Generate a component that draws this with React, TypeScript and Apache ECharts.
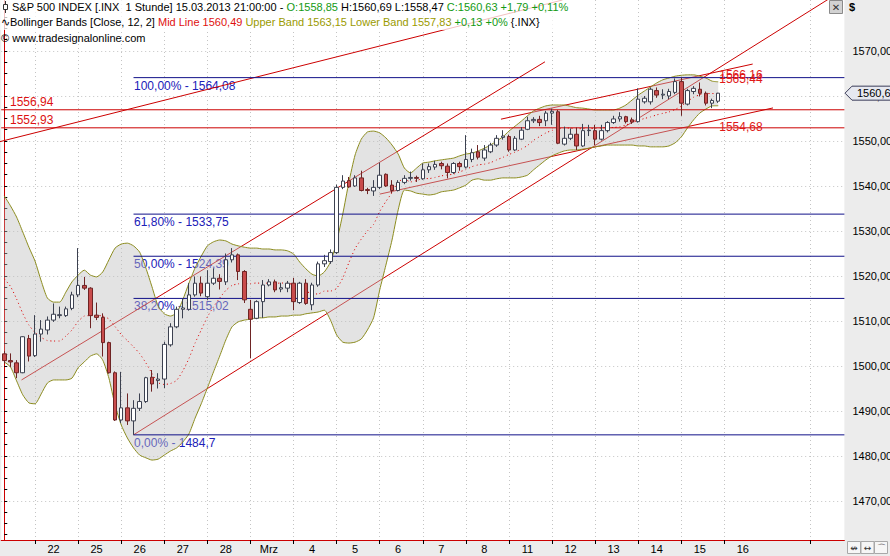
import React, { useEffect, useRef } from "react";
import * as echarts from "echarts";

// ---- price data (hourly bars, 21 Feb - 15 Mar 2013) ----
const opens = [
  1502.7, 1501.2, 1500.7, 1498.5, 1506.1, 1502.3, 1507.1, 1508.0, 1510.2, 1511.2,
  1511.2, 1512.8, 1515.8, 1517.9, 1517.3, 1511.3, 1510.8, 1505.2, 1498.5, 1488.0,
  1490.7, 1487.8, 1490.6, 1492.1, 1497.5, 1496.8, 1497.1, 1504.7, 1508.7, 1512.6,
  1512.6, 1515.8, 1518.4, 1515.4, 1518.4, 1519.5, 1518.7, 1523.6, 1524.7, 1521.0,
  1512.6, 1510.6, 1514.3, 1518.0, 1518.7, 1517.1, 1517.3, 1518.4, 1514.1, 1518.4,
  1513.6, 1518.0, 1522.7, 1523.2, 1525.2, 1539.7, 1541.2, 1540.0, 1541.8, 1539.2,
  1538.9, 1539.7, 1542.6, 1540.2, 1539.0, 1540.8, 1541.7, 1541.9, 1541.6, 1543.6,
  1544.2, 1545.0, 1544.4, 1543.0, 1545.0, 1544.2, 1545.9, 1547.6, 1546.2, 1547.6,
  1549.1, 1550.8, 1551.0, 1548.0, 1550.4, 1552.6, 1554.5, 1554.8, 1554.5, 1556.2,
  1556.5, 1549.3, 1550.6, 1551.5, 1548.9, 1552.3, 1552.3, 1550.4, 1552.3, 1554.1,
  1554.9, 1555.4, 1554.7, 1554.3, 1558.7, 1558.7, 1561.2, 1560.2, 1560.0, 1560.8,
  1563.2, 1558.2, 1561.0, 1561.5, 1560.6, 1558.4, 1558.85,
];
const highs = [
  1503.3, 1502.8, 1501.3, 1506.6, 1506.9, 1511.3, 1510.2, 1511.0, 1513.9, 1513.2,
  1513.2, 1516.5, 1526.2, 1519.8, 1517.5, 1514.1, 1511.7, 1505.4, 1498.8, 1498.7,
  1493.9, 1492.4, 1493.9, 1497.6, 1499.1, 1498.4, 1505.4, 1509.5, 1513.2, 1515.0,
  1518.4, 1519.9, 1519.9, 1521.3, 1521.7, 1520.4, 1525.0, 1526.2, 1525.0, 1521.3,
  1514.7, 1514.6, 1519.1, 1519.3, 1519.2, 1518.5, 1518.9, 1519.6, 1518.7, 1519.3,
  1518.5, 1523.2, 1524.7, 1525.9, 1540.3, 1542.4, 1542.0, 1542.4, 1543.4, 1539.6,
  1541.3, 1545.2, 1542.8, 1541.3, 1541.3, 1542.4, 1543.2, 1542.3, 1545.0, 1545.0,
  1545.6, 1545.4, 1545.0, 1545.3, 1545.4, 1551.3, 1548.3, 1549.1, 1549.1, 1549.6,
  1551.3, 1552.4, 1551.4, 1551.1, 1553.1, 1555.4, 1555.3, 1555.6, 1556.7, 1557.2,
  1556.9, 1553.2, 1552.8, 1553.0, 1553.8, 1553.6, 1553.6, 1553.6, 1554.4, 1555.6,
  1556.4, 1555.6, 1555.2, 1561.7, 1560.0, 1561.9, 1561.9, 1561.5, 1561.6, 1563.9,
  1564.1, 1561.6, 1562.2, 1563.0, 1561.0, 1559.4, 1560.69,
];
const lows = [
  1500.5, 1499.8, 1497.3, 1498.4, 1501.0, 1502.0, 1505.4, 1507.0, 1509.8, 1510.6,
  1510.9, 1512.4, 1515.3, 1516.9, 1508.4, 1510.2, 1502.1, 1498.3, 1487.8, 1487.3,
  1486.9, 1484.7, 1490.0, 1491.8, 1494.3, 1495.0, 1495.1, 1504.3, 1508.4, 1510.6,
  1512.3, 1515.4, 1515.5, 1514.7, 1518.0, 1517.0, 1518.0, 1523.0, 1519.1, 1514.0,
  1501.7, 1510.4, 1510.7, 1517.7, 1516.4, 1516.4, 1516.4, 1512.4, 1513.8, 1513.6,
  1512.4, 1517.6, 1522.0, 1522.7, 1524.9, 1539.3, 1539.6, 1539.8, 1538.8, 1538.2,
  1537.8, 1539.3, 1539.8, 1538.4, 1538.8, 1540.4, 1541.2, 1540.9, 1541.4, 1542.9,
  1543.6, 1543.7, 1541.7, 1542.7, 1543.4, 1543.9, 1545.3, 1545.9, 1545.6, 1547.3,
  1548.7, 1550.3, 1547.6, 1547.8, 1550.2, 1552.4, 1554.0, 1553.3, 1553.3, 1553.6,
  1549.3, 1549.0, 1550.2, 1548.0, 1548.7, 1551.1, 1549.1, 1550.1, 1551.9, 1553.8,
  1554.3, 1553.9, 1553.8, 1554.1, 1558.3, 1558.1, 1559.6, 1559.3, 1559.3, 1560.4,
  1555.6, 1557.9, 1560.4, 1559.9, 1557.9, 1557.3, 1558.47,
];
const closes = [
  1501.2, 1500.9, 1498.5, 1506.5, 1502.2, 1507.1, 1508.2, 1510.2, 1511.5, 1511.4,
  1512.7, 1515.8, 1517.9, 1517.3, 1511.2, 1510.8, 1505.2, 1498.5, 1488.0, 1490.7,
  1487.8, 1490.6, 1492.1, 1497.4, 1496.0, 1497.1, 1504.8, 1508.7, 1512.6, 1512.9,
  1515.8, 1518.4, 1516.2, 1518.4, 1519.5, 1518.8, 1523.6, 1524.7, 1521.0, 1514.7,
  1510.4, 1514.3, 1518.0, 1518.7, 1516.9, 1517.4, 1518.4, 1514.3, 1518.4, 1513.9,
  1518.0, 1522.7, 1523.4, 1525.2, 1539.7, 1541.1, 1539.8, 1541.8, 1539.0, 1539.0,
  1539.7, 1542.4, 1540.0, 1539.0, 1540.8, 1541.7, 1541.9, 1541.7, 1543.6, 1544.3,
  1544.8, 1544.5, 1543.0, 1545.0, 1544.3, 1545.9, 1547.4, 1546.4, 1548.0, 1549.1,
  1550.6, 1551.1, 1548.0, 1550.6, 1552.4, 1554.5, 1554.8, 1554.1, 1556.2, 1556.6,
  1549.5, 1550.6, 1551.5, 1548.9, 1552.3, 1552.4, 1550.4, 1552.3, 1554.1, 1554.9,
  1555.4, 1554.3, 1554.2, 1559.3, 1559.5, 1561.5, 1560.2, 1560.4, 1561.0, 1563.2,
  1558.4, 1561.2, 1561.7, 1560.6, 1558.4, 1559.0, 1560.63,
];

// ---- Bollinger Bands (Close, 12, 2) ----
const upperBand = [
  1537.8, 1535.6, 1533.1, 1529.8, 1526.4, 1523.3, 1518.9, 1515.1, 1514.2, 1514.2,
  1516.4, 1518.7, 1520.2, 1521.3, 1520.2, 1519.8, 1520.9, 1523.6, 1526.2, 1527.1,
  1527.3, 1526.7, 1525.3, 1521.8, 1517.6, 1513.3, 1511.6, 1511.1, 1511.8, 1514.7,
  1518.4, 1521.8, 1524.4, 1526.7, 1527.6, 1528.0, 1527.8, 1527.1, 1526.7, 1526.4,
  1526.2, 1526.2, 1526.0, 1526.0, 1525.8, 1525.8, 1525.6, 1524.9, 1523.1, 1521.6,
  1520.4, 1520.0, 1520.9, 1523.1, 1527.6, 1533.8, 1540.9, 1546.9, 1550.4, 1552.0,
  1552.2, 1551.8, 1550.7, 1549.1, 1547.1, 1544.0, 1542.9, 1544.0, 1545.1, 1545.3,
  1545.6, 1545.8, 1546.0, 1546.2, 1546.7, 1547.1, 1547.3, 1547.8, 1548.4, 1549.1,
  1550.0, 1550.9, 1552.2, 1553.3, 1554.4, 1555.6, 1556.7, 1557.3, 1557.8, 1558.0,
  1558.0, 1558.0, 1557.7, 1557.4, 1557.3, 1557.1, 1556.9, 1556.9, 1556.9, 1556.9,
  1557.3, 1558.0, 1559.1, 1560.2, 1561.1, 1562.0, 1562.9, 1563.6, 1564.0, 1564.4,
  1564.6, 1564.7, 1564.7, 1564.4, 1564.0, 1563.3, 1563.15,
];
const lowerBand = [
  1500.9, 1499.8, 1496.7, 1493.6, 1491.8, 1491.6, 1493.8, 1496.2, 1496.9, 1496.9,
  1496.9, 1497.3, 1499.6, 1500.9, 1502.2, 1502.7, 1501.3, 1497.3, 1491.3, 1486.9,
  1484.0, 1481.8, 1480.2, 1479.6, 1479.1, 1479.3, 1480.2, 1481.1, 1481.8, 1483.1,
  1484.9, 1488.4, 1491.6, 1495.1, 1498.7, 1502.2, 1505.8, 1508.7, 1509.8, 1510.2,
  1510.4, 1510.7, 1510.7, 1510.9, 1510.9, 1511.1, 1511.1, 1511.3, 1511.3, 1511.6,
  1511.8, 1512.0, 1512.4, 1510.2, 1506.9, 1505.3, 1505.1, 1505.3, 1506.0, 1508.0,
  1510.7, 1516.9, 1522.4, 1528.0, 1534.7, 1539.1, 1538.9, 1538.4, 1538.2, 1538.0,
  1538.2, 1538.7, 1538.9, 1539.1, 1539.6, 1540.2, 1541.3, 1541.6, 1541.3, 1541.3,
  1541.6, 1541.8, 1541.8, 1541.8, 1542.0, 1542.4, 1543.6, 1544.7, 1545.8, 1546.7,
  1547.3, 1547.8, 1548.0, 1548.0, 1548.2, 1548.4, 1548.7, 1548.9, 1549.1, 1549.1,
  1549.1, 1549.1, 1549.1, 1548.9, 1548.9, 1548.7, 1548.7, 1548.7, 1548.9, 1549.6,
  1550.9, 1552.9, 1554.7, 1556.2, 1557.1, 1557.8, 1557.83,
];

// ---- time axis ----
const SLOTS = 137; // hourly slots incl. future space
const dayLabels = ["22", "25", "26", "27", "28", "Mrz", "4", "5", "6", "7", "8", "11", "12", "13", "14", "15", "16"];
const dayStart = [5, 12, 19, 26, 33, 40, 47, 54, 61, 68, 75, 82, 89, 96, 103, 110, 117];
const extraTicks = [131];

// ---- price axis ----
const Y_MIN = 1461.333;
const Y_MAX = 1581.333;
const priceLabels = [1470, 1480, 1490, 1500, 1510, 1520, 1530, 1540, 1550, 1560, 1570];
const priceMinorTicks = [
  1462.5, 1465, 1467.5, 1470, 1472.5, 1475, 1477.5, 1480, 1482.5, 1485, 1487.5, 1490, 1492.5, 1495, 1497.5,
  1500, 1502.5, 1505, 1507.5, 1510, 1512.5, 1515, 1517.5, 1520, 1522.5, 1525, 1527.5, 1530, 1532.5, 1535,
  1537.5, 1540, 1542.5, 1545, 1547.5, 1550, 1552.5, 1555, 1557.5, 1560, 1562.5, 1565, 1567.5, 1570, 1572.5,
  1575, 1577.5, 1580,
];

// ---- drawings ----
const fibPct = ["100,00%", "61,80%", "50,00%", "38,20%", "0,00%"];
const fibValues = [1564.08, 1533.75, 1524.39, 1515.02, 1484.7];
const fibStart = 21;
const levelValues = [1556.94, 1552.93];
const lineA = [[-1, 1549.76], [90.7, 1581.33]];
const lineB = [[2.8, 1496.9], [87.85, 1567.6]];
const lineC = [[21, 1484.7], [134, 1581.6]];
const lineE = [[80.7, 1554.85], [121.6, 1567.1]];
const lineG = [[61, 1538.2], [124.9, 1557.35]];
const trendLabelIndex = 116;
const trendLabelValues = [1566.16, 1565.44, 1554.68];
const lastClose = 1560.63;

const FONT = "Liberation Sans, Arial, sans-serif";
const comma = (v: number, d?: number) => (d === undefined ? String(v) : v.toFixed(d)).replace(".", ",");

export default function App() {
  const ref = useRef<HTMLDivElement>(null);
  useEffect(() => {
    if (!ref.current) return;
    const chart = echarts.init(ref.current, null, { renderer: "svg" });
    const categories = Array.from({ length: SLOTS }, (_, i) => String(i));
    const candles = opens.map((o, i) => [o, closes[i], lows[i], highs[i]]);
    const mid = upperBand.map((u, i) => (u + lowerBand[i]) / 2);
    const width = upperBand.map((u, i) => u - lowerBand[i]);
    const labelPos = dayStart.map((d) => d + 3);
    const labelMap: Record<number, string> = {};
    labelPos.forEach((p, i) => (labelMap[p] = dayLabels[i]));

    const trend = (data: number[][]) => ({
      type: "line",
      xAxisIndex: 1,
      yAxisIndex: 0,
      data,
      symbol: "none",
      silent: true,
      z: 1,
      lineStyle: { color: "#cc0000", width: 1 },
    });
    const hline = (v: number, from: number, color: string) => ({
      type: "line",
      xAxisIndex: 1,
      yAxisIndex: 0,
      data: [[from, v], [SLOTS - 0.5, v]],
      symbol: "none",
      silent: true,
      z: 6,
      lineStyle: { color, width: 1 },
    });

    const option: any = {
      animation: false,
      backgroundColor: "#ececec",
      textStyle: { fontFamily: FONT },
      grid: {
        left: 1.2,
        right: 45.6,
        top: 0,
        bottom: 16,
        containLabel: false,
        outerBoundsMode: "none",
        show: true,
        backgroundColor: "#ffffff",
        borderWidth: 0,
      },
      xAxis: [
        {
          type: "category",
          data: categories,
          show: false,
          boundaryGap: true,
        },
        {
          type: "value",
          min: -0.5,
          max: SLOTS - 0.5,
          position: "bottom",
          axisLine: { show: true, lineStyle: { color: "#cc0000", width: 1 } },
          axisTick: { show: true, length: 4, customValues: [...dayStart, ...extraTicks], lineStyle: { color: "#000" } },
          axisLabel: {
            show: true,
            customValues: labelPos,
            formatter: (v: number) => labelMap[v] ?? "",
            color: "#000",
            fontSize: 11,
            fontFamily: FONT,
            margin: 3,
          },
          splitLine: { show: true, lineStyle: { color: "#c4c4c4", type: [1, 3], width: 1 } },
        },
      ],
      yAxis: [
        {
          type: "value",
          position: "right",
          min: Y_MIN,
          max: Y_MAX,
          axisLine: { show: true, lineStyle: { color: "#cc0000", width: 1 } },
          axisTick: { show: true, length: 3, customValues: priceMinorTicks, lineStyle: { color: "#000" } },
          axisLabel: {
            show: true,
            customValues: priceLabels,
            formatter: (v: number) => comma(v, 2),
            color: "#000",
            fontSize: 11,
            fontFamily: FONT,
            margin: 8,
          },
          splitLine: { show: false },
        },
        {
          type: "value",
          position: "right",
          min: Y_MIN,
          max: Y_MAX,
          axisLine: { show: false },
          axisTick: { show: false, customValues: priceLabels },
          axisLabel: { show: false },
          splitLine: { show: true, lineStyle: { color: "#c4c4c4", type: [1, 3], width: 1 } },
        },
      ],
      series: [
        trend(lineA),
        trend(lineB),
        trend(lineC),
        trend(lineE),
        trend(lineG),
        {
          type: "line",
          xAxisIndex: 0,
          yAxisIndex: 0,
          data: lowerBand,
          stack: "bb",
          symbol: "none",
          smooth: 0.2,
          z: 4,
          silent: true,
          lineStyle: { color: "#8c8c1e", width: 1 },
        },
        {
          type: "line",
          xAxisIndex: 0,
          yAxisIndex: 0,
          data: width,
          stack: "bb",
          symbol: "none",
          smooth: 0.2,
          z: 3,
          silent: true,
          lineStyle: { width: 0, opacity: 0 },
          areaStyle: { color: "rgba(190,190,190,0.62)" },
        },
        {
          type: "line",
          xAxisIndex: 0,
          yAxisIndex: 0,
          data: upperBand,
          symbol: "none",
          smooth: 0.2,
          z: 4,
          silent: true,
          lineStyle: { color: "#8c8c1e", width: 1 },
        },
        ...fibValues.map((v) => hline(v, fibStart, "#101088")),
        ...levelValues.map((v) => hline(v, -0.5, "#cc0000")),
        {
          type: "line",
          xAxisIndex: 0,
          yAxisIndex: 0,
          data: mid,
          symbol: "none",
          smooth: 0.2,
          z: 5,
          silent: true,
          lineStyle: { color: "#dd0000", width: 1, type: [1, 3] },
        },
        {
          type: "candlestick",
          xAxisIndex: 0,
          yAxisIndex: 0,
          data: candles,
          barWidth: 4,
          z: 8,
          silent: true,
          itemStyle: {
            color: "#ffffff",
            color0: "#c94c4c",
            borderColor: "#3c4150",
            borderColor0: "#6e2424",
            borderWidth: 1,
          },
        },
      ],
    };
    chart.setOption(option);

    const px = (i: number) => chart.convertToPixel({ xAxisIndex: 1 }, i) as number;
    const py = (v: number) => chart.convertToPixel({ yAxisIndex: 0 }, v) as number;

    const graphics: any[] = [];
    // fib labels (under band)
    fibValues.forEach((v, i) => {
      graphics.push({
        type: "text",
        x: px(fibStart) + 0.5,
        y: py(v) + 2,
        z: 1,
        silent: true,
        style: { text: `${fibPct[i]} - ${comma(v)}`, fill: "#2020b8", font: `12px ${FONT}`, textVerticalAlign: "top" },
      });
    });
    // level labels
    levelValues.forEach((v) => {
      graphics.push({
        type: "text",
        x: 10,
        y: py(v) - 1.5,
        z: 7,
        silent: true,
        style: { text: comma(v, 2), fill: "#dd1111", font: `12px ${FONT}`, textVerticalAlign: "bottom" },
      });
    });
    // trend-line value labels
    trendLabelValues.forEach((v) => {
      graphics.push({
        type: "text",
        x: px(trendLabelIndex) + 1,
        y: py(v) + 1,
        z: 7,
        silent: true,
        style: { text: comma(v, 2), fill: "#e01818", font: `12px ${FONT}`, textVerticalAlign: "top" },
      });
    });
    // current price marker
    const yc = py(lastClose);
    graphics.push({
      type: "polygon",
      z: 20,
      silent: true,
      shape: { points: [[845, yc], [852, yc - 7], [892, yc - 7], [892, yc + 7], [852, yc + 7]] },
      style: { fill: "#e6e8f0", stroke: "#3a3c58", lineWidth: 1 },
    });
    graphics.push({
      type: "text",
      x: 857,
      y: yc,
      z: 21,
      silent: true,
      style: { text: comma(lastClose, 2), fill: "#000", font: `11px ${FONT}`, textVerticalAlign: "middle" },
    });
    // header overlay + texts
    graphics.push({
      type: "rect",
      z: 30,
      silent: true,
      shape: { x: 0, y: 0, width: 578, height: 30 },
      style: { fill: "rgba(255,255,255,0.75)" },
    });
    graphics.push({
      type: "line",
      z: 31,
      silent: true,
      shape: { x1: 5.5, y1: 1, x2: 5.5, y2: 13 },
      style: { stroke: "#333", lineWidth: 1 },
    });
    graphics.push({
      type: "rect",
      z: 32,
      silent: true,
      shape: { x: 3.5, y: 4.5, width: 4, height: 5 },
      style: { fill: "#fff", stroke: "#333", lineWidth: 1 },
    });
    graphics.push({
      type: "text",
      x: 12,
      y: 7,
      z: 32,
      silent: true,
      style: {
        text: "S&P 500 INDEX [.INX  1 Stunde] 15.03.2013 21:00:00 - {g|O:1558,85} H:1560,69 L:1558,47 {g|C:1560,63 +1,79 +0,11%}",
        fill: "#000",
        font: `11px ${FONT}`,
        textVerticalAlign: "middle",
        rich: { g: { fill: "#139a13", font: `11px ${FONT}` } },
      },
    });
    graphics.push({
      type: "text",
      x: 1,
      y: 22,
      z: 32,
      silent: true,
      style: {
        text: "∿Bollinger Bands [Close, 12, 2] {r|Mid Line 1560,49} {o|Upper Band 1563,15 Lower Band 1557,83} {g|+0,13 +0%} {.INX}",
        fill: "#000",
        font: `11px ${FONT}`,
        textVerticalAlign: "middle",
        rich: {
          r: { fill: "#e01010", font: `11px ${FONT}` },
          o: { fill: "#9a9a00", font: `11px ${FONT}` },
          g: { fill: "#139a13", font: `11px ${FONT}` },
        },
      },
    });
    graphics.push({
      type: "text",
      x: 1,
      y: 38,
      z: 32,
      silent: true,
      style: { text: "© www.tradesignalonline.com", fill: "#000", font: `11px ${FONT}`, textVerticalAlign: "middle" },
    });
    // "$" and close button
    graphics.push({
      type: "text",
      x: 849,
      y: 7,
      z: 32,
      silent: true,
      style: { text: "$", fill: "#000", font: `bold 11px ${FONT}`, textVerticalAlign: "middle" },
    });
    graphics.push({
      type: "rect",
      z: 32,
      silent: true,
      shape: { x: 829.5, y: 0.5, width: 13, height: 13 },
      style: { fill: "#d2d2d2", stroke: "#8a8a8a", lineWidth: 1 },
    });
    graphics.push({
      type: "text",
      x: 836,
      y: 7.5,
      z: 33,
      silent: true,
      style: { text: "✕", fill: "#333", font: `10px DejaVu Sans`, textAlign: "center", textVerticalAlign: "middle" },
    });
    // bottom-right icons
    ["↮", "↔", "⌒"].forEach((g, i) => {
      graphics.push({
        type: "rect",
        z: 32,
        silent: true,
        shape: { x: 847.5 + i * 13.5, y: 541.5, width: 13, height: 12 },
        style: { fill: "#f6f6f6", stroke: "#a8a8a8", lineWidth: 1 },
      });
      graphics.push({
        type: "text",
        x: 854 + i * 13.5,
        y: 547.5,
        z: 33,
        silent: true,
        style: { text: g, fill: "#333", font: `9px DejaVu Sans`, textAlign: "center", textVerticalAlign: "middle" },
      });
    });
    chart.setOption({ graphic: graphics });

    return () => chart.dispose();
  }, []);

  return (
    <div
      ref={ref}
      style={{ position: "fixed", left: 0, top: 0, width: 890, height: 556, background: "#ececec" }}
    />
  );
}
